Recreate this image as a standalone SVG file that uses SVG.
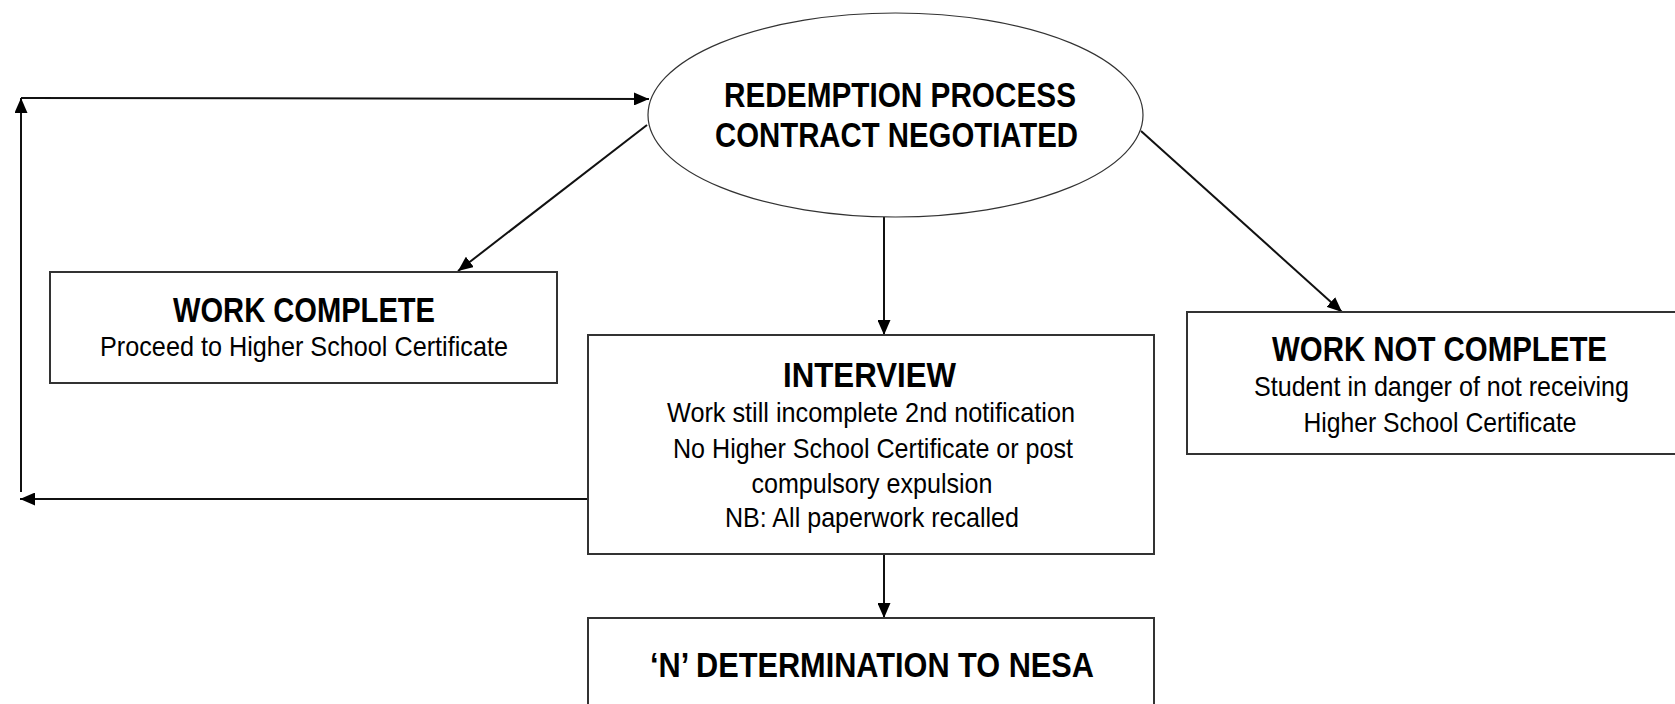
<svg xmlns="http://www.w3.org/2000/svg" width="1675" height="704" viewBox="0 0 1675 704">
<style>
.box{fill:#fff;stroke:#333;stroke-width:2}
.ell{fill:#fff;stroke:#333;stroke-width:1.2}
.con{fill:none;stroke:#111;stroke-width:2}
.h{font-family:"Liberation Sans Narrow","Liberation Sans",Arial,sans-serif;font-weight:bold;font-size:35px;fill:#000}
.t{font-family:"Liberation Sans Narrow","Liberation Sans",Arial,sans-serif;font-size:28px;fill:#000}
</style>
<defs>
<marker id="arr" markerUnits="userSpaceOnUse" markerWidth="15" markerHeight="13" refX="15" refY="6.5" orient="auto">
<path d="M0,0 L15,6.5 L0,13 z" fill="#000"/>
</marker>
</defs>
<rect width="1675" height="704" fill="#fff"/>
<g id="connectors">
<line class="con" x1="21" y1="98" x2="649" y2="99" marker-end="url(#arr)"/>
<line class="con" x1="21" y1="492" x2="21" y2="98" marker-end="url(#arr)"/>
<line class="con" x1="588" y1="499" x2="20" y2="499" marker-end="url(#arr)"/>
<line class="con" x1="647" y1="125" x2="458" y2="271" marker-end="url(#arr)"/>
<line class="con" x1="884" y1="217" x2="884" y2="335" marker-end="url(#arr)"/>
<line class="con" x1="1141" y1="131" x2="1342" y2="312" marker-end="url(#arr)"/>
<line class="con" x1="884" y1="554" x2="884" y2="618" marker-end="url(#arr)"/>
</g>
<g id="redemption">
<ellipse class="ell" cx="895.5" cy="115" rx="247.5" ry="102"/>
<text class="h" x="724" y="107" textLength="352" lengthAdjust="spacingAndGlyphs">REDEMPTION PROCESS</text>
<text class="h" x="715" y="147" textLength="363" lengthAdjust="spacingAndGlyphs">CONTRACT NEGOTIATED</text>
</g>
<g id="work-complete">
<rect class="box" x="50" y="272" width="507" height="111"/>
<text class="h" x="173" y="322" textLength="262" lengthAdjust="spacingAndGlyphs">WORK COMPLETE</text>
<text class="t" x="100" y="356" textLength="408" lengthAdjust="spacingAndGlyphs">Proceed to Higher School Certificate</text>
</g>
<g id="interview">
<rect class="box" x="588" y="335" width="566" height="219"/>
<text class="h" x="783" y="387" textLength="173" lengthAdjust="spacingAndGlyphs">INTERVIEW</text>
<text class="t" x="667" y="422" textLength="408" lengthAdjust="spacingAndGlyphs">Work still incomplete 2nd notification</text>
<text class="t" x="673" y="458" textLength="400" lengthAdjust="spacingAndGlyphs">No Higher School Certificate or post</text>
<text class="t" x="751.5" y="493" textLength="241" lengthAdjust="spacingAndGlyphs">compulsory expulsion</text>
<text class="t" x="725" y="527" textLength="294" lengthAdjust="spacingAndGlyphs">NB: All paperwork recalled</text>
</g>
<g id="work-not-complete">
<rect class="box" x="1187" y="312" width="520" height="142"/>
<text class="h" x="1272" y="361" textLength="335" lengthAdjust="spacingAndGlyphs">WORK NOT COMPLETE</text>
<text class="t" x="1254" y="396" textLength="375" lengthAdjust="spacingAndGlyphs">Student in danger of not receiving</text>
<text class="t" x="1303.5" y="432" textLength="273" lengthAdjust="spacingAndGlyphs">Higher School Certificate</text>
</g>
<g id="n-determination">
<rect class="box" x="588" y="618" width="566" height="110"/>
<text class="h" x="650" y="677" textLength="444" lengthAdjust="spacingAndGlyphs">‘N’ DETERMINATION TO NESA</text>
</g>
</svg>
